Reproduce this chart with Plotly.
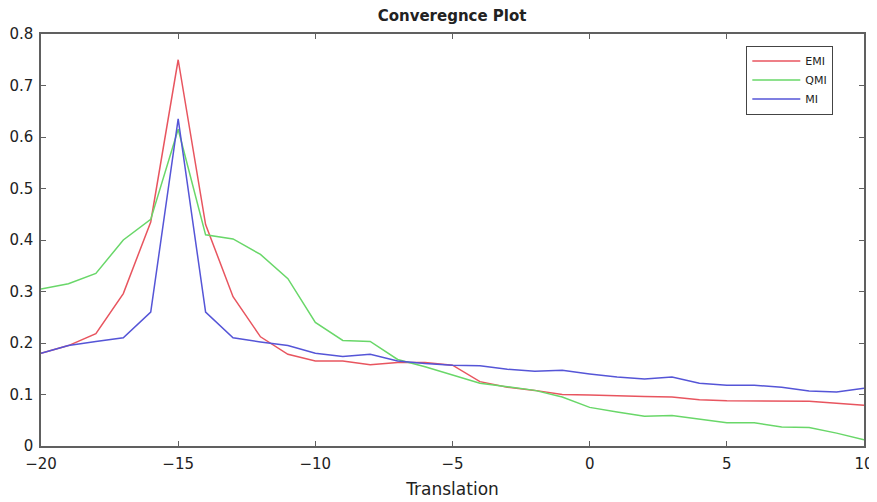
import plotly.graph_objects as go

# translation steps
x = list(range(-20, 11))

emi = [0.180, 0.195, 0.218, 0.296, 0.435, 0.750, 0.430, 0.290, 0.212, 0.178,
       0.165, 0.165, 0.158, 0.162, 0.162, 0.157, 0.125, 0.114, 0.108, 0.100,
       0.099, 0.097, 0.096, 0.095, 0.090, 0.088, 0.088, 0.088, 0.087, 0.083,
       0.079]
qmi = [0.305, 0.315, 0.335, 0.400, 0.440, 0.615, 0.410, 0.402, 0.372, 0.325,
       0.240, 0.205, 0.203, 0.168, 0.154, 0.138, 0.122, 0.115, 0.108, 0.095,
       0.075, 0.066, 0.058, 0.059, 0.052, 0.045, 0.045, 0.037, 0.036, 0.025,
       0.012]
mi = [0.180, 0.195, 0.203, 0.210, 0.260, 0.635, 0.260, 0.210, 0.202, 0.195,
      0.180, 0.174, 0.178, 0.165, 0.160, 0.157, 0.156, 0.149, 0.145, 0.147,
      0.140, 0.134, 0.130, 0.134, 0.122, 0.118, 0.118, 0.114, 0.107, 0.105,
      0.112]

FONT = 'DejaVu Sans, Arial'

fig = go.Figure()
fig.add_trace(go.Scatter(x=x, y=emi, mode='lines', name='EMI',
                         line=dict(color='rgb(232,85,95)', width=1.5)))
fig.add_trace(go.Scatter(x=x, y=qmi, mode='lines', name='QMI',
                         line=dict(color='rgb(105,215,105)', width=1.5)))
fig.add_trace(go.Scatter(x=x, y=mi, mode='lines', name='MI',
                         line=dict(color='rgb(85,85,215)', width=1.5)))

axis_style = dict(showgrid=False, zeroline=False, showline=True,
                  linecolor='#606060', linewidth=1.5, mirror='ticks',
                  ticks='inside', ticklen=5, tickcolor='#606060',
                  automargin=False,
                  tickfont=dict(family=FONT, size=15, color='#222'))

# page body adds a small offset, so the figure is a bit smaller than the window
fig.update_layout(
    width=869, height=494,
    paper_bgcolor='white', plot_bgcolor='white',
    margin=dict(l=33, r=13, t=26, b=56),
    title=dict(text='<b>Converegnce Plot</b>', x=0.511, xanchor='center',
               yref='container', y=0.985, yanchor='middle',
               font=dict(family=FONT, size=15, color='#222')),
    xaxis=dict(range=[-20, 10], tickvals=[-20, -15, -10, -5, 0, 5, 10],
               ticklabelstandoff=3,
               title=dict(text='Translation', standoff=11,
                          font=dict(family=FONT, size=17, color='#222')),
               **axis_style),
    yaxis=dict(range=[0, 0.8], dtick=0.1, tickformat='.1~f',
               ticklabelstandoff=3, **axis_style),
    legend=dict(x=0.857, y=0.972, xanchor='left', yanchor='top',
                bordercolor='#444', borderwidth=1, bgcolor='white',
                font=dict(family=FONT, size=11, color='#222'),
                tracegroupgap=0, itemwidth=48),
    showlegend=True,
)

fig.write_html("out.html")
